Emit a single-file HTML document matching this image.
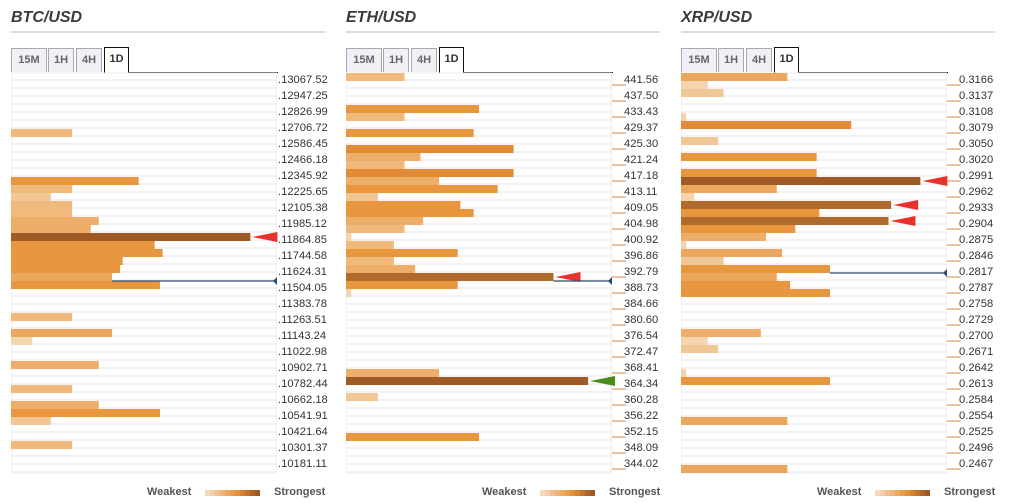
<!DOCTYPE html>
<html><head><meta charset="utf-8">
<style>
html,body{margin:0;padding:0;background:#fff;}
body{width:1011px;height:503px;position:relative;overflow:hidden;font-family:"Liberation Sans",sans-serif;}
.abs{position:absolute;}
.title{font-weight:bold;font-style:italic;font-size:16px;color:#3a3a3a;}
.tab{position:absolute;top:48px;height:24px;box-sizing:border-box;border:1px solid #a8a8b0;border-bottom:none;background:#f1f0f6;font-size:11px;font-weight:bold;color:#666;text-align:center;line-height:23px;}
.tab.active{background:#fff;border:1px solid #111;border-bottom:none;color:#333;height:26px;top:47px;}
.lbl{position:absolute;font-size:11.2px;color:#333;line-height:14px;}
.leg{position:absolute;top:486px;font-size:11px;font-weight:bold;color:#555;}
</style></head>
<body>
<div id="root"></div>
<script>
// ---- data ----
const btcLabels=["13067.52","12947.25","12826.99","12706.72","12586.45","12466.18","12345.92","12225.65","12105.38","11985.12","11864.85","11744.58","11624.31","11504.05","11383.78","11263.51","11143.24","11022.98","10902.71","10782.44","10662.18","10541.91","10421.64","10301.37","10181.11"];
const btcRows=[7,13,14,15,16,17,18,19,20,21,22,23,24,25,26,30,32,33,36,39,41,42,43,46];
const btcScores=[23,48,23,15,23,23,33,30,90,54,57,42,41,38,56,23,38,8,33,23,33,56,15,23];
const btcRedArrows=[20];
const btcGreenArrows=[];
const btcPriceRow=26;

const ethLabels=["441.56","437.50","433.43","429.37","425.30","421.24","417.18","413.11","409.05","404.98","400.92","396.86","392.79","388.73","384.66","380.60","376.54","372.47","368.41","364.34","360.28","356.22","352.15","348.09","344.02"];
const ethRows=[0,4,5,7,9,10,11,12,13,14,15,16,17,18,19,20,21,22,23,24,25,26,27,37,38,40,45];
const ethScores=[22,50,22,48,63,28,22,63,35,57,12,43,48,29,22,2,18,42,18,26,78,42,2,35,91,12,50];
const ethRedArrows=[25];
const ethGreenArrows=[38];
const ethPriceRow=26;

const xrpLabels=["0.3166","0.3137","0.3108","0.3079","0.3050","0.3020","0.2991","0.2962","0.2933","0.2904","0.2875","0.2846","0.2817","0.2787","0.2758","0.2729","0.2700","0.2671","0.2642","0.2613","0.2584","0.2554","0.2525","0.2496","0.2467"];
const xrpRows=[0,1,2,5,6,8,10,12,13,14,15,16,17,18,19,20,21,22,23,24,25,26,27,32,33,34,37,38,43,49];
const xrpScores=[40,10,16,2,64,14,51,51,90,36,5,79,52,78,43,32,2,38,16,56,36,41,56,30,10,14,2,56,40,40];
const xrpRedArrows=[13,16,18];
const xrpGreenArrows=[];
const xrpPriceRow=25;

const legendColors=["#f6d9b8","#f3cda3","#f0c08c","#edb576","#eba961","#e99d4d","#e69139","#d8822f","#c47329","#b06525","#9d5a23"];

// ---- layout ----
const PLOT_TOP=73, ROW_H=8, NROWS=50, PLOT_W=266;
function colorFor(s){
  if(s<=10) return "#f5d5b0";
  if(s<=16) return "#f2c796";
  if(s<=25) return "#efba7c";
  if(s<=35) return "#ecae68";
  if(s<=40) return "#eba75e";
  if(s<=60) return "#e8973e";
  if(s<=70) return "#e28a38";
  if(s<=85) return "#b06a2c";
  return "#a05a25";
}
const root=document.getElementById('root');
const NS="http://www.w3.org/2000/svg";

function panel(off,name,labels,rows,scores,red,green,priceRow){
  const px=off+11;
  const t=document.createElement('div');
  t.className='abs title';t.style.left=px+'px';t.style.top='9px';t.textContent=name;
  
  
  root.appendChild(t);
  const hr=document.createElement('div');
  hr.className='abs';hr.style.cssText=`left:${px}px;top:31px;width:314px;height:2px;background:#dcdcdc`;
  
  
  root.appendChild(hr);
  const tabs=[["15M",0,36],["1H",37,26],["4H",65,26],["1D",93,25]];
  tabs.forEach((tb,i)=>{
    const d=document.createElement('div');
    d.className='tab'+(i==3?' active':'');
    d.style.left=(px+tb[1])+'px';d.style.width=tb[2]+'px';d.textContent=tb[0];
    
    
    root.appendChild(d);
  });
  const bl=document.createElement('div');
  bl.className='abs';bl.style.cssText=`left:${px+117}px;top:72px;width:${PLOT_W-117+1}px;height:1px;background:#111`;
  
  
  root.appendChild(bl);

  const svg=document.createElementNS(NS,'svg');
  svg.setAttribute('width',PLOT_W+60);svg.setAttribute('height',NROWS*ROW_H+2);
  svg.style.cssText=`position:absolute;left:${px}px;top:${PLOT_TOP}px;overflow:visible`;
  
  
  root.appendChild(svg);
  const y=r=>r*ROW_H;
  const x=s=>s/100*PLOT_W;
  for(let r=0;r<NROWS;r++){
    const g=document.createElementNS(NS,'rect');
    g.setAttribute('x',0);g.setAttribute('y',y(r)+6);g.setAttribute('width',PLOT_W);g.setAttribute('height',2);g.setAttribute('fill','#f2f1f7');
    
    
    svg.appendChild(g);
  }
  const fr=document.createElementNS(NS,'rect');
  fr.setAttribute('x',0.5);fr.setAttribute('y',0);fr.setAttribute('width',PLOT_W-1);fr.setAttribute('height',NROWS*ROW_H);
  fr.setAttribute('fill','none');fr.setAttribute('stroke','#eeeef4');
  
  
  svg.appendChild(fr);
  rows.forEach((r,i)=>{
    const b=document.createElementNS(NS,'rect');
    b.setAttribute('x',0);b.setAttribute('y',y(r));b.setAttribute('width',x(scores[i]));b.setAttribute('height',ROW_H);
    b.setAttribute('fill',colorFor(scores[i]));
    
    
    svg.appendChild(b);
  });
  function arrow(r,col){
    const i=rows.indexOf(r);const s=x(scores[i])+2;const cy=y(r)+4;
    const p=document.createElementNS(NS,'polygon');
    p.setAttribute('points',`${s},${cy} ${s+25},${cy-5} ${s+25},${cy+5}`);
    p.setAttribute('fill',col);
    
    
    svg.appendChild(p);
  }
  red.forEach(r=>arrow(r,'#e8302d'));
  green.forEach(r=>arrow(r,'#4a8c1c'));
  const pi=rows.indexOf(priceRow-1);
  const ps=pi>=0?x(scores[pi]):0;
  const ln=document.createElementNS(NS,'line');
  ln.setAttribute('x1',ps);ln.setAttribute('x2',PLOT_W);ln.setAttribute('y1',y(priceRow));ln.setAttribute('y2',y(priceRow));
  ln.setAttribute('stroke','#2e4a6b');ln.setAttribute('stroke-width',1.2);
  
  
  svg.appendChild(ln);
  const mk=document.createElementNS(NS,'polygon');
  mk.setAttribute('points',`${PLOT_W-4},${y(priceRow)} ${PLOT_W},${y(priceRow)-4} ${PLOT_W},${y(priceRow)+4}`);
  mk.setAttribute('fill','#2e4a6b');
  
  
  svg.appendChild(mk);
  labels.forEach((l,i)=>{
    const ty=y(i*2)+12;
    const tk=document.createElementNS(NS,'line');
    tk.setAttribute('x1',PLOT_W);tk.setAttribute('x2',PLOT_W+14);tk.setAttribute('y1',ty);tk.setAttribute('y2',ty);
    tk.setAttribute('stroke',name=='BTC/USD'?'#fff':'#d98a45');tk.setAttribute('stroke-width',1);
    
    
    svg.appendChild(tk);
    const d=document.createElement('div');
    d.className='lbl';d.style.left=(px+PLOT_W+(name=='BTC/USD'?1:12))+'px';d.style.top=(PLOT_TOP+y(i*2))+'px';
    d.textContent=(name=='BTC/USD'?'.':'')+l;
    
    
    root.appendChild(d);
  });
  const w=document.createElement('div');w.className='leg';w.style.left=(off+147)+'px';w.textContent='Weakest';
  
  
  root.appendChild(w);
  legendColors.forEach((c,i)=>{
    const d=document.createElement('div');d.className='abs';
    d.style.cssText=`left:${off+205+i*5}px;top:490px;width:5px;height:6px;background:${c}`;
    
    
    root.appendChild(d);
  });
  const s=document.createElement('div');s.className='leg';s.style.left=(off+274)+'px';s.textContent='Strongest';
  
  
  root.appendChild(s);
}
panel(0,"BTC/USD",btcLabels,btcRows,btcScores,btcRedArrows,btcGreenArrows,btcPriceRow);
panel(335,"ETH/USD",ethLabels,ethRows,ethScores,ethRedArrows,ethGreenArrows,ethPriceRow);
panel(670,"XRP/USD",xrpLabels,xrpRows,xrpScores,xrpRedArrows,xrpGreenArrows,xrpPriceRow);
</script>
</body></html>
